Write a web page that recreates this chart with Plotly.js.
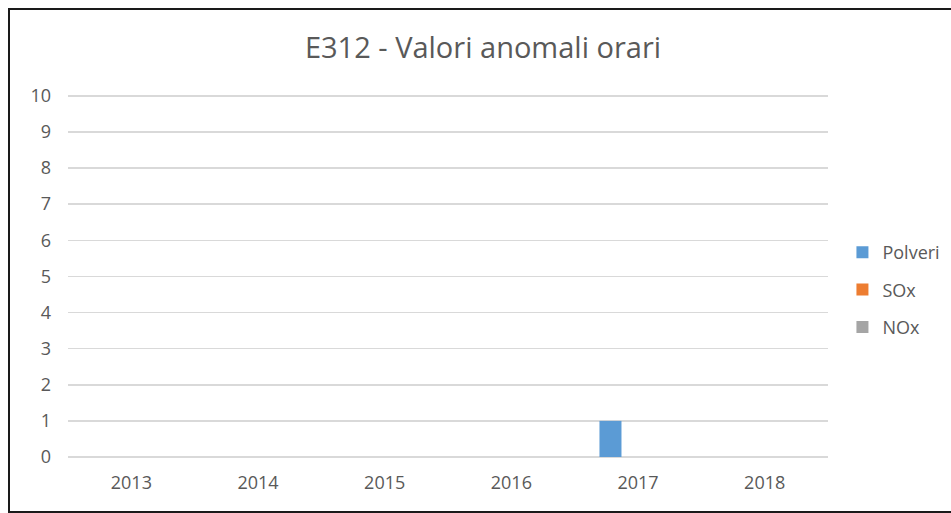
<!DOCTYPE html>
<html>
<head>
<meta charset="utf-8">
<script src="https://cdn.plot.ly/plotly-3.0.1.min.js"></script>
<style>
  html, body { margin: 0; padding: 0; background: #fff; }
  #wrap { position: relative; width: 951px; height: 513px; overflow: hidden; }
  #chart { position: absolute; left: 0; top: 0; width: 951px; height: 513px; }
  #frame { position: absolute; left: 8px; top: 8px; width: 960px; height: 501px;
           border: 2px solid #1a1a1a; pointer-events: none; }
</style>
</head>
<body>
<div id="wrap">
  <div id="chart"></div>
  <div id="frame"></div>
</div>
<script>
const years = ['2013', '2014', '2015', '2016', '2017', '2018'];
const polveri = [0, 0, 0, 0, 1, 0];
const sox = [0, 0, 0, 0, 0, 0];
const nox = [0, 0, 0, 0, 0, 0];
const seriesNames = ['Polveri', 'SOx', 'NOx'];
const seriesColors = ['#5B9BD5', '#ED7D31', '#A5A5A5'];
const chartTitle = 'E312 - Valori anomali orari';

const font = '"Open Sans", sans-serif';
const data = [polveri, sox, nox].map((vals, i) => ({
  type: 'bar',
  x: years,
  y: vals,
  name: seriesNames[i],
  legendgroup: 'g' + i,
  marker: { color: seriesColors[i] }
}));

const layout = {
  width: 951,
  height: 513,
  margin: { l: 68, r: 123, t: 94, b: 56, autoexpand: false },
  paper_bgcolor: '#ffffff',
  plot_bgcolor: '#ffffff',
  font: { family: font, color: '#595959', size: 18 },
  title: {
    text: chartTitle,
    font: { family: font, size: 29, color: '#595959' },
    x: 483 / 951, xanchor: 'center', xref: 'container',
    y: 1 - 48 / 513, yanchor: 'middle', yref: 'container'
  },
  barmode: 'group',
  bargap: 0.348,
  bargroupgap: 0.2,
  xaxis: {
    type: 'category',
    showgrid: false,
    zeroline: false,
    showline: false,
    ticks: '',
    ticklabelstandoff: 13,
    tickfont: { family: font, size: 18, color: '#595959' }
  },
  yaxis: {
    range: [0, 10.05],
    dtick: 1,
    tick0: 0,
    showgrid: true,
    gridcolor: '#d9d9d9',
    gridwidth: 1.5,
    zeroline: true,
    zerolinecolor: '#d9d9d9',
    zerolinewidth: 1.5,
    showline: false,
    ticks: '',
    ticklabelstandoff: 16,
    tickfont: { family: font, size: 18, color: '#595959' }
  },
  legend: {
    x: 1.019, xanchor: 'left',
    y: (457 - 290) / 363, yanchor: 'middle',
    font: { family: font, size: 18, color: '#595959' },
    tracegroupgap: 11,
    itemwidth: 30,
    bgcolor: 'rgba(0,0,0,0)'
  },
  showlegend: true
};

Plotly.newPlot('chart', data, layout, { displayModeBar: false, staticPlot: true });
</script>
</body>
</html>
